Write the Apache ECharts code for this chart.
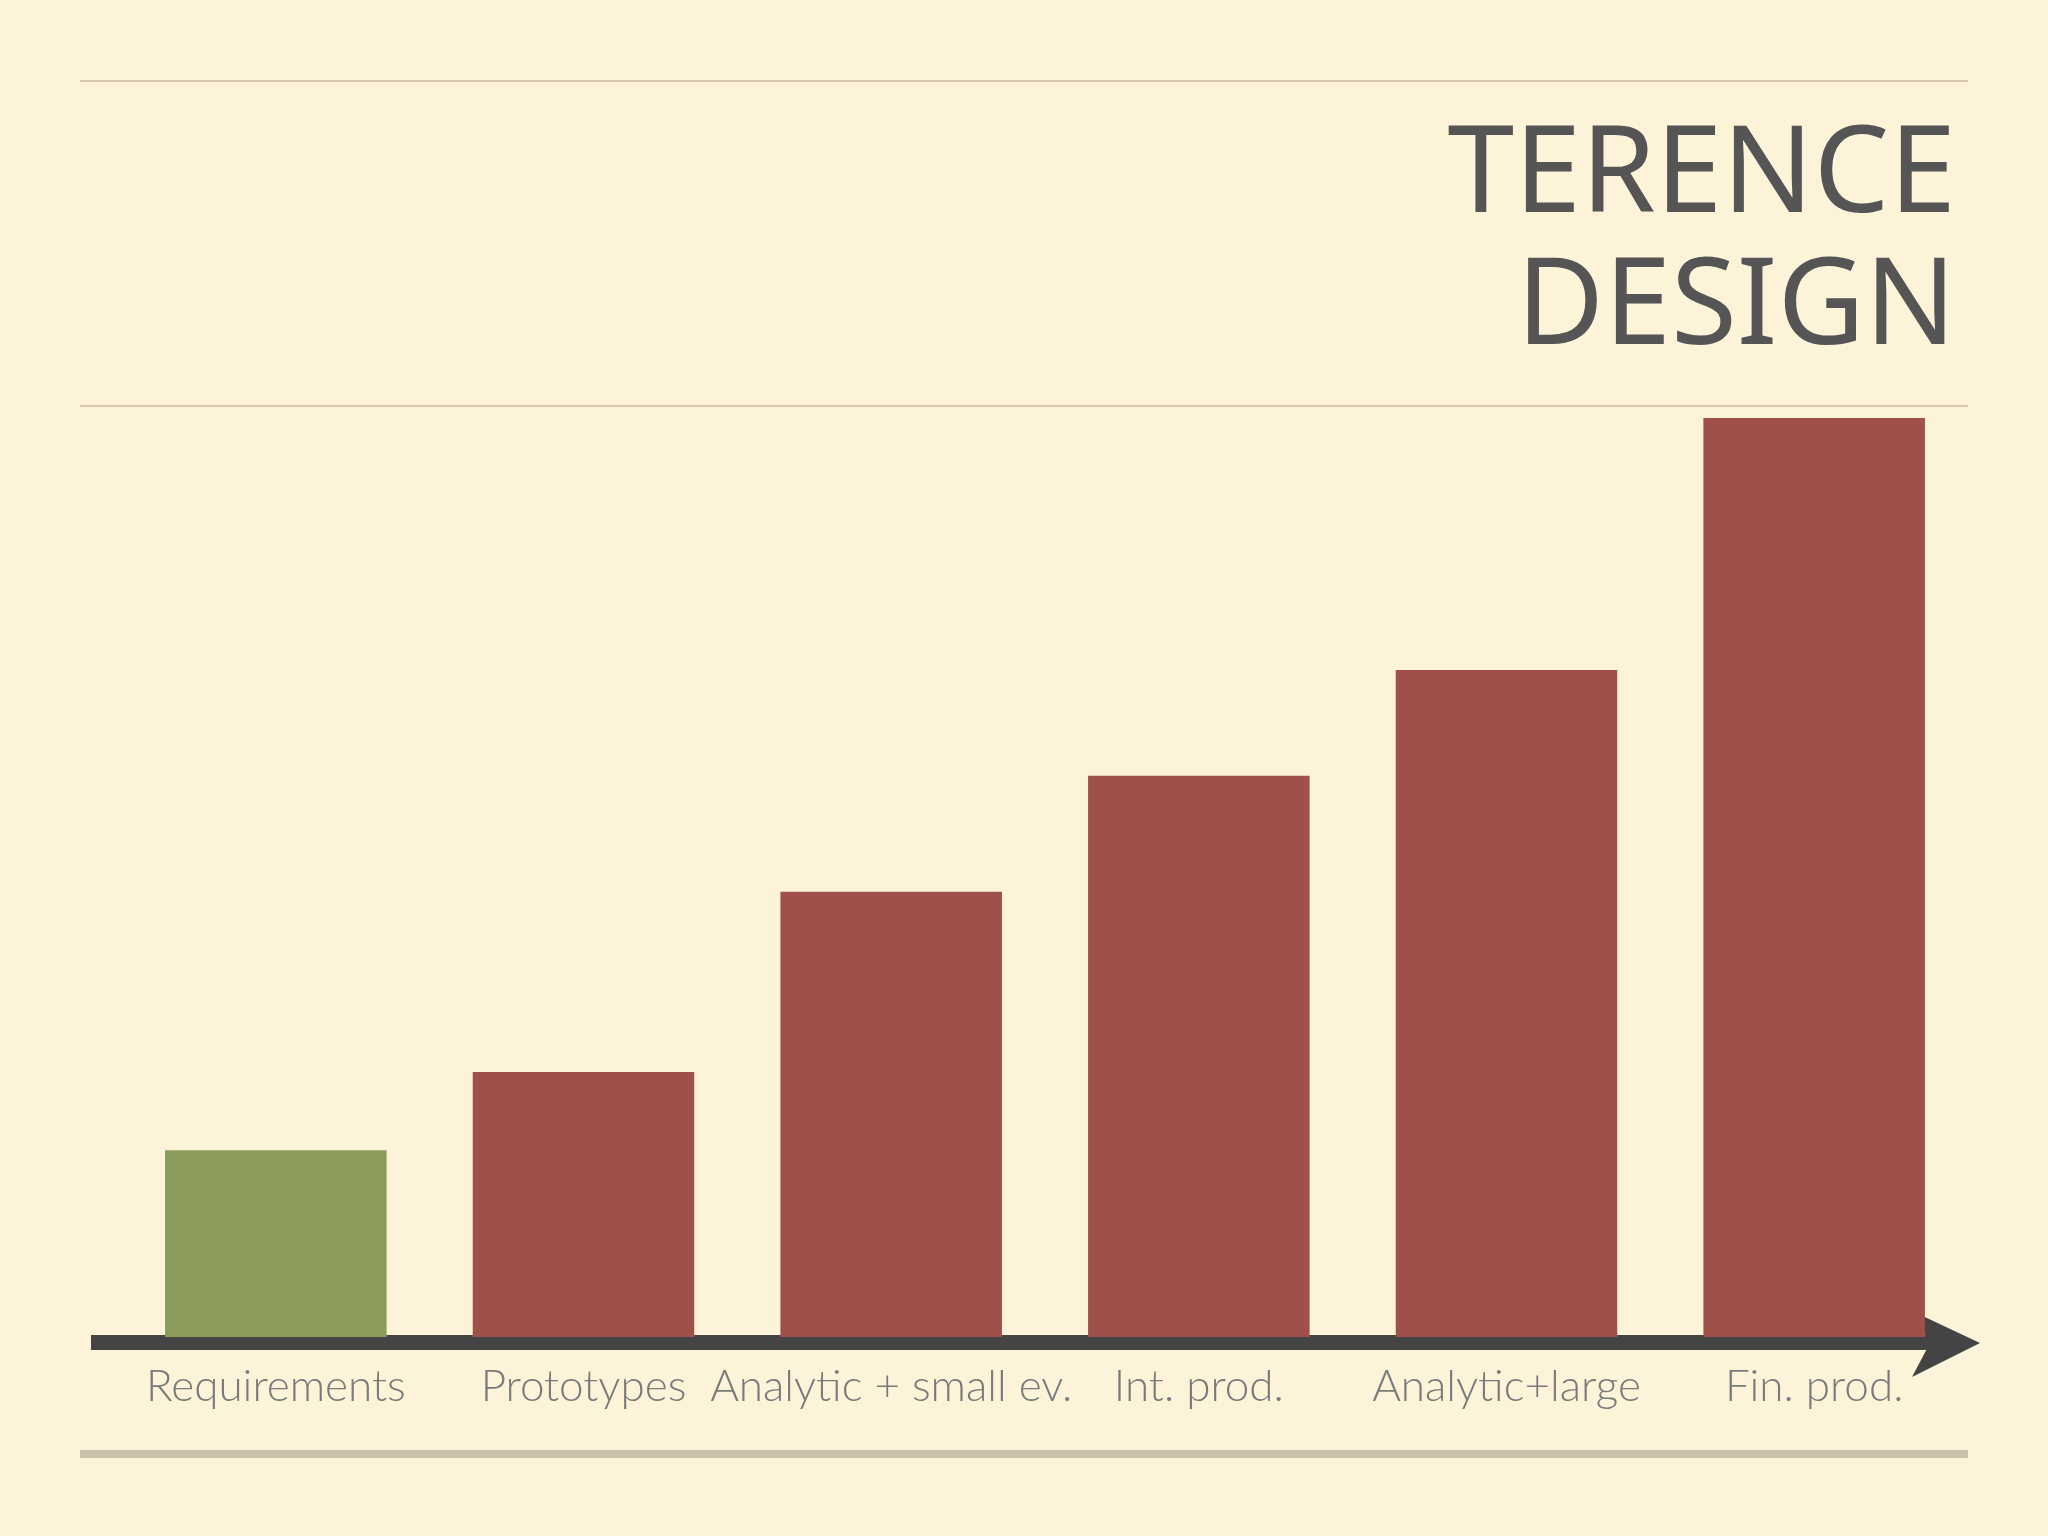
<!DOCTYPE html>
<html><head><meta charset="utf-8">
<script src="https://cdn.jsdelivr.net/npm/echarts@6/dist/echarts.min.js"></script>
<style>html,body{margin:0;background:#fcf3d8}#c{width:2048px;height:1536px}</style>
</head><body><div id="c"></div>
<script>
const categories = ['Requirements','Prototypes','Analytic + small ev.','Int. prod.','Analytic+large','Fin. prod.'];
const values = [143, 203, 341, 430, 511, 704];
const barColors = ['#8b9b5b','#a0504b','#a0504b','#a0504b','#a0504b','#a0504b'];
const titleLines = ['TERENCE','DESIGN'];

const chart = echarts.init(document.getElementById('c'));
chart.setOption({
  backgroundColor: '#fcf3d8',
  animation: false,
  grid: {left: 122, right: 80, top: 418, bottom: 199},
  xAxis: {type: 'category', data: categories,
    axisLine: {show: false}, axisTick: {show: false},
    axisLabel: {color: '#7a7a7a', fontFamily: 'Lato', fontWeight: 300, fontSize: 44, margin: 28, interval: 0}},
  yAxis: {type: 'value', min: 0, max: 704, show: false},
  series: [{type: 'bar', barCategoryGap: '28%',
    data: values.map((v, i) => ({value: v, itemStyle: {color: barColors[i]}}))}],
  graphic: [
    {type: 'line', shape: {x1: 80, y1: 81, x2: 1968, y2: 81}, style: {stroke: '#d6cbb0', lineWidth: 2}},
    {type: 'line', shape: {x1: 80, y1: 406, x2: 1968, y2: 406}, style: {stroke: '#d6cbb0', lineWidth: 2}},
    {type: 'line', shape: {x1: 80, y1: 1454, x2: 1968, y2: 1454}, style: {stroke: '#c9c2ad', lineWidth: 8}},
    {type: 'rect', shape: {x: 91, y: 1335, width: 1860, height: 15}, style: {fill: '#444'}},
    {type: 'polygon', shape: {points: [[1912, 1311], [1980, 1343], [1912, 1377], [1930, 1343]]}, style: {fill: '#444'}},
    {type: 'text', right: 92, top: 112, style: {text: titleLines.join('\n'), fill: '#555', font: '400 120px "Noto Sans"', textAlign: 'right', lineHeight: 132}}
  ]
});
</script></body></html>
